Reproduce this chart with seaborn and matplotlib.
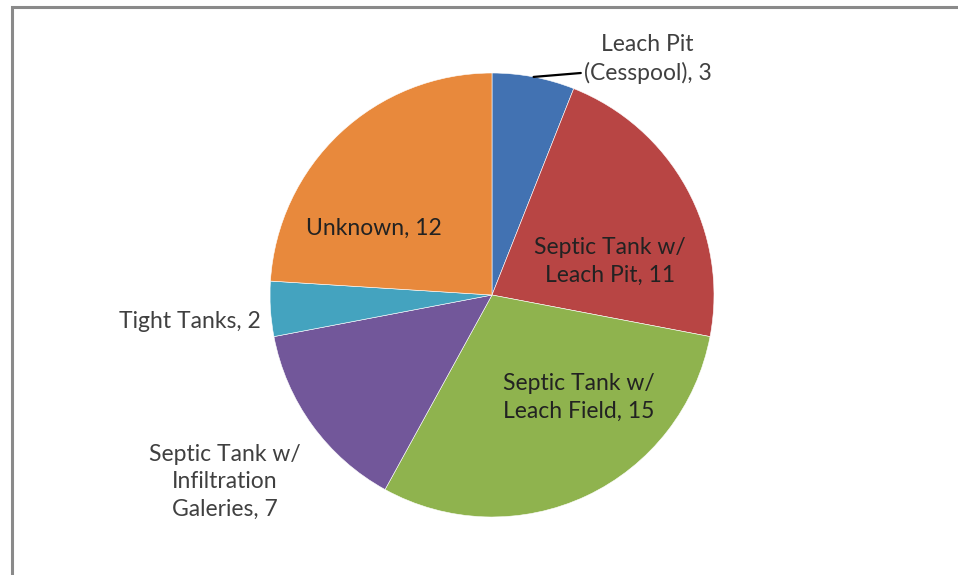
import numpy as np
import matplotlib
matplotlib.use('Agg')
import matplotlib.pyplot as plt
import matplotlib.patches as mpatches
import seaborn as sns

sns.set_theme(style='white')
plt.rcParams['font.family'] = ['Lato', 'DejaVu Sans']

# data
categories = ['Leach Pit\n(Cesspool)', 'Septic Tank w/\nLeach Pit', 'Septic Tank w/\nLeach Field',
              'Septic Tank w/\nInfiltration\nGaleries', 'Tight Tanks', 'Unknown']
counts = [3, 11, 15, 7, 2, 12]
colors = ['#4272b2', '#b84544', '#8fb34e', '#72579a', '#44a3bf', '#e8893c']

# label placement (in pie radius units), excel "best fit" look
label_pos = [(0.70, 1.065), (0.53, 0.15), (0.39, -0.46), (-1.205, -0.84), (-1.36, -0.12), (-0.53, 0.30)]
label_inside = [False, True, True, False, False, True]

W, H = 958, 575
fig = plt.figure(figsize=(W / 100, H / 100), dpi=100)
fig.patch.set_facecolor('white')

# chart border (runs off the right / bottom of the crop)
fig.patches.append(mpatches.Rectangle((12 / W, -0.1), 1.2, 1 - 7 / H + 0.1, transform=fig.transFigure,
                                      fill=False, edgecolor='#8a8a8a', linewidth=2.2, zorder=0))

cx, cy, R = 492, 295, 222
ax = fig.add_axes([(cx - R) / W, (H - cy - R) / H, 2 * R / W, 2 * R / H])
wedges, _ = ax.pie(counts, colors=colors, startangle=90, counterclock=False, radius=1,
                   wedgeprops=dict(edgecolor='white', linewidth=0.4))
ax.set_xlim(-1, 1)
ax.set_ylim(-1, 1)
ax.set_aspect('equal')
ax.axis('off')

for i, (name, n) in enumerate(zip(categories, counts)):
    x, y = label_pos[i]
    ax.text(x, y, f'{name}, {n}', ha='center', va='center', fontsize=16.5, linespacing=1.38,
            color='#222222' if label_inside[i] else '#404040', clip_on=False)

# leader line for the small first slice
w = wedges[0]
mid = np.deg2rad((w.theta1 + w.theta2) / 2)
ax.plot([np.cos(mid), 0.40], [np.sin(mid), 1.0], color='black', lw=1.6, clip_on=False)

fig.savefig('out.png', dpi=100, facecolor='white')
